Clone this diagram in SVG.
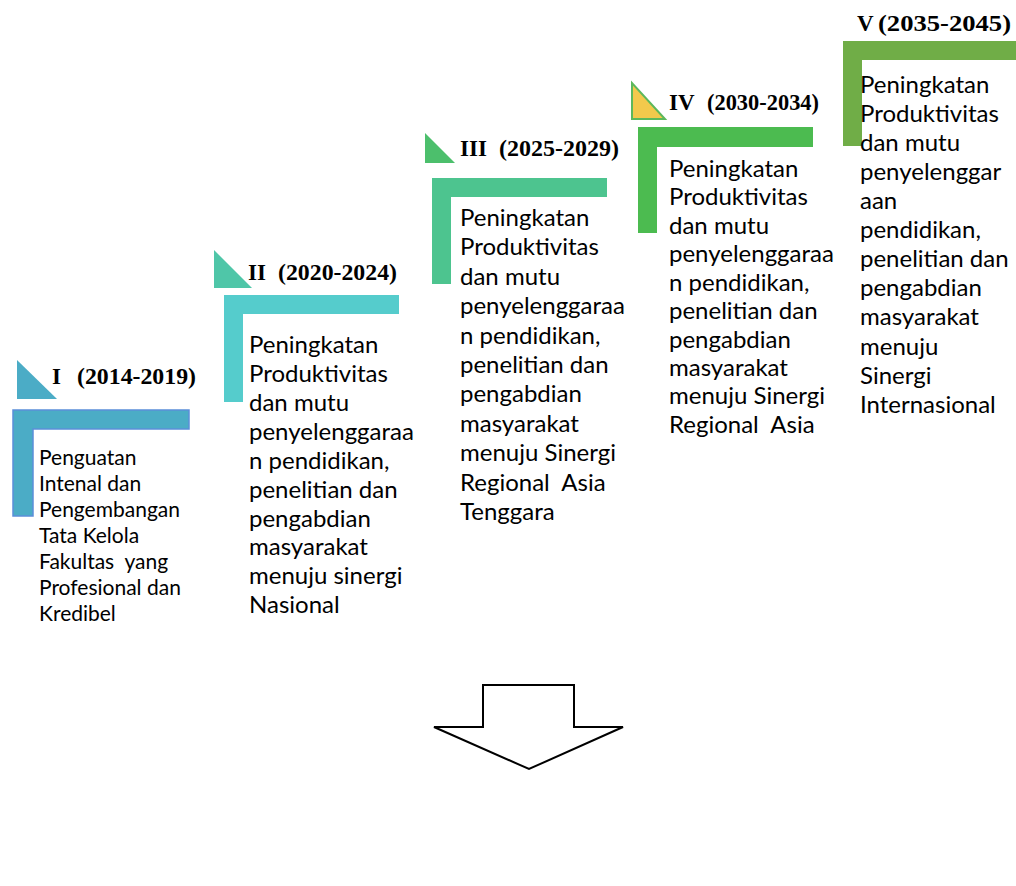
<svg xmlns="http://www.w3.org/2000/svg" width="1016" height="886" viewBox="0 0 1016 886">
<style>
.lbl{font-family:"Liberation Serif","Times New Roman",serif;font-weight:bold;font-size:23px;fill:#000}
.body{font-family:Lato,"Open Sans",sans-serif;font-size:24px;fill:#000;white-space:pre}
.small{font-size:21px}
</style>
<rect width="1016" height="886" fill="#fff"/>
<g id="stage1">
<polygon points="17,360 17,399 57,399" fill="#4bacc6"/>
<path d="M13,410 H189 V429 H33 V516 H13 Z" fill="#4bacc6" stroke="#5b8fd9" stroke-width="1.5"/>
<text class="lbl" x="52" y="384">I</text>
<text class="lbl" x="77" y="384" textLength="119" lengthAdjust="spacingAndGlyphs">(2014-2019)</text>
<text class="body small" x="39" y="465" xml:space="preserve"><tspan x="39" y="465">Penguatan</tspan><tspan x="39" y="491">Intenal dan</tspan><tspan x="39" y="517">Pengembangan</tspan><tspan x="39" y="543">Tata Kelola</tspan><tspan x="39" y="569">Fakultas  yang</tspan><tspan x="39" y="595">Profesional dan</tspan><tspan x="39" y="621">Kredibel</tspan></text>
</g>
<g id="stage2">
<polygon points="214,250 214,288 252,288" fill="#4fc6a8"/>
<path d="M224,295 H399 V314 H243 V402 H224 Z" fill="#55cccc"/>
<text class="lbl" x="248" y="280">II</text>
<text class="lbl" x="278" y="280" textLength="119" lengthAdjust="spacingAndGlyphs">(2020-2024)</text>
<text class="body" x="249" y="353" xml:space="preserve"><tspan x="249" y="353">Peningkatan</tspan><tspan x="249" y="382">Produktivitas</tspan><tspan x="249" y="411">dan mutu</tspan><tspan x="249" y="440">penyelenggaraa</tspan><tspan x="249" y="469">n pendidikan,</tspan><tspan x="249" y="498">penelitian dan</tspan><tspan x="249" y="527">pengabdian</tspan><tspan x="249" y="555">masyarakat</tspan><tspan x="249" y="584">menuju sinergi</tspan><tspan x="249" y="613">Nasional</tspan></text>
</g>
<g id="stage3">
<polygon points="425,133 425,163 455,163" fill="#4cbf6c"/>
<path d="M432,178 H607 V197 H451 V284 H432 Z" fill="#4dc48f"/>
<text class="lbl" x="460" y="156">III</text>
<text class="lbl" x="499" y="156" textLength="120" lengthAdjust="spacingAndGlyphs">(2025-2029)</text>
<text class="body" x="460" y="226" xml:space="preserve"><tspan x="460" y="226">Peningkatan</tspan><tspan x="460" y="255">Produktivitas</tspan><tspan x="460" y="285">dan mutu</tspan><tspan x="460" y="314">penyelenggaraa</tspan><tspan x="460" y="344">n pendidikan,</tspan><tspan x="460" y="373">penelitian dan</tspan><tspan x="460" y="402">pengabdian</tspan><tspan x="460" y="432">masyarakat</tspan><tspan x="460" y="461">menuju Sinergi</tspan><tspan x="460" y="491">Regional  Asia</tspan><tspan x="460" y="520">Tenggara</tspan></text>
</g>
<g id="stage4">
<polygon points="632,83 632,119 665,119" fill="#f2c94c" stroke="#5cb85c" stroke-width="2"/>
<path d="M638,127 H813 V147 H657 V233 H638 Z" fill="#4cbb50"/>
<text class="lbl" x="669" y="110">IV</text>
<text class="lbl" x="707" y="110" textLength="112" lengthAdjust="spacingAndGlyphs">(2030-2034)</text>
<text class="body" x="669" y="177" xml:space="preserve"><tspan x="669" y="177">Peningkatan</tspan><tspan x="669" y="205">Produktivitas</tspan><tspan x="669" y="234">dan mutu</tspan><tspan x="669" y="262">penyelenggaraa</tspan><tspan x="669" y="291">n pendidikan,</tspan><tspan x="669" y="319">penelitian dan</tspan><tspan x="669" y="348">pengabdian</tspan><tspan x="669" y="376">masyarakat</tspan><tspan x="669" y="404">menuju Sinergi</tspan><tspan x="669" y="433">Regional  Asia</tspan></text>
</g>
<g id="stage5">
<path d="M843,41 H1016 V60 H862 V146 H843 Z" fill="#70ad47"/>
<text class="lbl" x="857" y="31">V</text>
<text class="lbl" x="878" y="31" textLength="133" lengthAdjust="spacingAndGlyphs">(2035-2045)</text>
<text class="body" x="860" y="93" xml:space="preserve"><tspan x="860" y="93">Peningkatan</tspan><tspan x="860" y="122">Produktivitas</tspan><tspan x="860" y="151">dan mutu</tspan><tspan x="860" y="180">penyelenggar</tspan><tspan x="860" y="209">aan</tspan><tspan x="860" y="238">pendidikan,</tspan><tspan x="860" y="267">penelitian dan</tspan><tspan x="860" y="296">pengabdian</tspan><tspan x="860" y="325">masyarakat</tspan><tspan x="860" y="355">menuju</tspan><tspan x="860" y="384">Sinergi</tspan><tspan x="860" y="413">Internasional</tspan></text>
</g>
<g id="connectors">
<polygon points="483,685 574,685 574,727 623,727 529,769 434,727 483,727" fill="#fff" stroke="#000" stroke-width="2" stroke-linejoin="miter"/>
</g>
</svg>
